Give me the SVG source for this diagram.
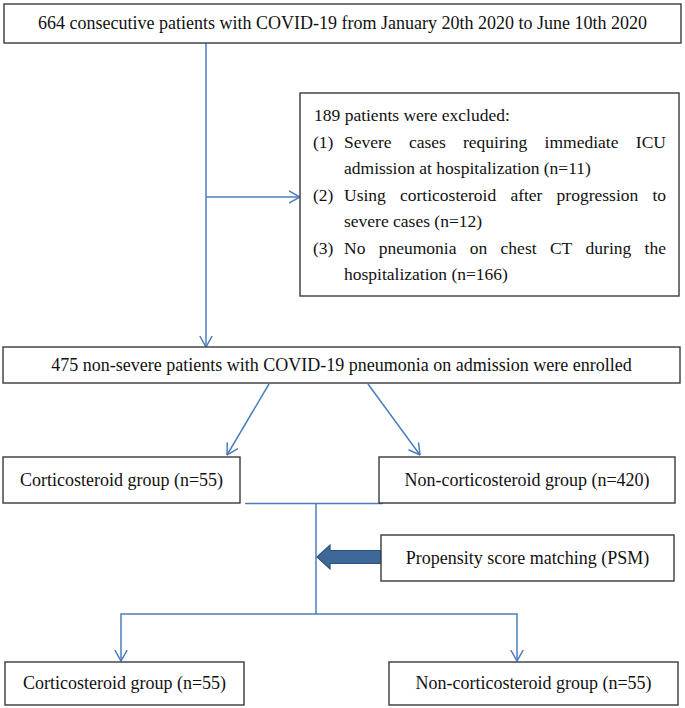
<svg xmlns="http://www.w3.org/2000/svg" width="685" height="708" viewBox="0 0 685 708">
  <defs>
    <marker id="open" viewBox="0 0 12 14" refX="11.5" refY="7" markerWidth="12" markerHeight="14" markerUnits="userSpaceOnUse" orient="auto">
      <path d="M0.5,0.8 L11.5,7 L0.5,13.2" fill="none" stroke="#4A7EBB" stroke-width="1.5"/>
    </marker>
    <style>
      .box { fill: #ffffff; stroke: #3a3a3a; stroke-width: 1.4; }
      .lbl { font-family: "Liberation Serif", "Times New Roman", serif; font-size: 18px; fill: #111; text-anchor: middle; }
      .ex { font-family: "Liberation Serif", "Times New Roman", serif; font-size: 17.5px; fill: #111; }
      .con { fill: none; stroke: #4A7EBB; stroke-width: 1.5; }
      .arr { marker-end: url(#open); }
    </style>
  </defs>
  <rect width="685" height="708" fill="#ffffff"/>

  <g id="connectors">
    <line class="con" x1="206" y1="43" x2="206" y2="296"/>
    <line class="con arr" x1="206" y1="296" x2="206" y2="347"/>
    <line class="con arr" x1="206" y1="197" x2="300" y2="197"/>
    <line class="con arr" x1="269" y1="384" x2="227" y2="455"/>
    <line class="con arr" x1="368" y1="384" x2="420" y2="455"/>
    <line class="con" x1="245" y1="503.5" x2="383" y2="503.5"/>
    <line class="con" x1="316" y1="503.5" x2="316" y2="614"/>
    <polyline class="con" points="121,640 121,614 517,614 517,640"/>
    <line class="con arr" x1="121" y1="640" x2="121" y2="661"/>
    <line class="con arr" x1="517" y1="640" x2="517" y2="661"/>
    <path d="M317,557 L330,545 L330,550.5 L381,550.5 L381,563.5 L330,563.5 L330,569 Z" fill="#3D6897" stroke="#2C5180" stroke-width="1.2"/>
  </g>

  <g id="n_top">
    <rect class="box" x="4" y="4" width="677" height="39"/>
    <text class="lbl" x="342.5" y="29">664 consecutive patients with COVID-19 from January 20th 2020 to June 10th 2020</text>
  </g>

  <g id="n_excluded">
    <rect class="box" x="300" y="93" width="379" height="203"/>
    <text class="ex" x="314" y="121">189 patients were excluded:</text>
    <text class="ex" y="147.5"><tspan x="313">(1)</tspan><tspan x="344">Severe</tspan><tspan x="409">cases</tspan><tspan x="463">requiring</tspan><tspan x="544.6">immediate</tspan><tspan x="666" text-anchor="end">ICU</tspan></text>
    <text class="ex" x="344" y="174">admission at hospitalization (n=11)</text>
    <text class="ex" y="200.5"><tspan x="313">(2)</tspan><tspan x="344">Using</tspan><tspan x="400">corticosteroid</tspan><tspan x="510.4">after</tspan><tspan x="556.6">progression</tspan><tspan x="666" text-anchor="end">to</tspan></text>
    <text class="ex" x="344" y="227">severe cases (n=12)</text>
    <text class="ex" y="253.5"><tspan x="313">(3)</tspan><tspan x="344">No</tspan><tspan x="378.7">pneumonia</tspan><tspan x="469.8">on</tspan><tspan x="500.6">chest</tspan><tspan x="549.9">CT</tspan><tspan x="585.6">during</tspan><tspan x="666" text-anchor="end">the</tspan></text>
    <text class="ex" x="344" y="280">hospitalization (n=166)</text>
  </g>

  <g id="n_enrolled">
    <rect class="box" x="3" y="347" width="677" height="36"/>
    <text class="lbl" x="341.5" y="371">475 non-severe patients with COVID-19 pneumonia on admission were enrolled</text>
  </g>

  <g id="n_cort1">
    <rect class="box" x="3" y="457" width="237" height="46"/>
    <text class="lbl" x="121.5" y="486">Corticosteroid group (n=55)</text>
  </g>

  <g id="n_noncort1">
    <rect class="box" x="379" y="457" width="296" height="46"/>
    <text class="lbl" x="527" y="486">Non-corticosteroid group (n=420)</text>
  </g>

  <g id="n_psm">
    <rect class="box" x="381" y="535" width="293" height="46"/>
    <text class="lbl" x="527.5" y="564">Propensity score matching (PSM)</text>
  </g>

  <g id="n_cort2">
    <rect class="box" x="5" y="662" width="239" height="43"/>
    <text class="lbl" x="124.5" y="689">Corticosteroid group (n=55)</text>
  </g>

  <g id="n_noncort2">
    <rect class="box" x="389" y="662" width="289" height="43"/>
    <text class="lbl" x="533.5" y="689">Non-corticosteroid group (n=55)</text>
  </g>
</svg>
